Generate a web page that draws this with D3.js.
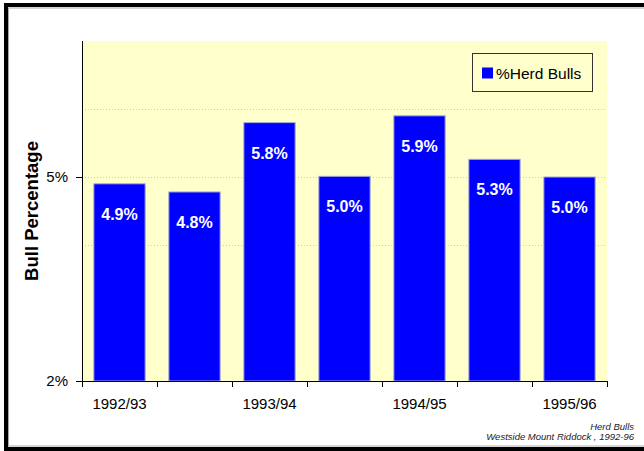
<!DOCTYPE html>
<html>
<head>
<meta charset="utf-8">
<script src="https://cdn.jsdelivr.net/npm/d3@7"></script>
<style>
  body { margin: 0; background: #fff; }
  svg { display: block; font-family: "Liberation Sans", Arial, sans-serif; }
</style>
</head>
<body>
<div id="chart"></div>
<script>
// data
var categories = ["1992/93", "1992/93b", "1993/94", "1993/94b", "1994/95", "1994/95b", "1995/96"];
var tickLabels = ["1992/93", "", "1993/94", "", "1994/95", "", "1995/96"];
var bullPct = [0.049, 0.0478, 0.058, 0.0501, 0.059, 0.0526, 0.050];
var valueLabels = ["4.9%", "4.8%", "5.8%", "5.0%", "5.9%", "5.3%", "5.0%"];
var yTicks = [0.02, 0.05];
var gridValues = [0.04, 0.05, 0.06];

var svgWidth = 644;
var svgHeight = 451;

var margin = { top: 41, right: 37, bottom: 70, left: 82 };
var chartWidth = svgWidth - margin.left - margin.right;
var chartHeight = svgHeight - margin.top - margin.bottom;

var svg = d3.select("#chart").append("svg")
  .attr("width", svgWidth)
  .attr("height", svgHeight);

// outer frame (open on the right)
svg.append("rect")
  .attr("x", 6).attr("y", 5)
  .attr("width", 700).attr("height", 444)
  .attr("fill", "none")
  .attr("stroke", "#000")
  .attr("stroke-width", 4);
svg.append("rect")
  .attr("x", 8.5).attr("y", 8)
  .attr("width", 700).attr("height", 438)
  .attr("fill", "none")
  .attr("stroke", "#aaa")
  .attr("stroke-width", 1);

var chartGroup = svg.append("g")
  .attr("transform", `translate(${margin.left}, ${margin.top})`);

// scales
var xScale = d3.scaleBand()
  .domain(categories)
  .range([0, chartWidth])
  .paddingInner(0.316)
  .paddingOuter(0.158);

var yScale = d3.scaleLinear()
  .domain([0.02, 0.07])
  .range([chartHeight, 0]);

// plot background
chartGroup.append("rect")
  .attr("width", chartWidth)
  .attr("height", chartHeight)
  .attr("fill", "#ffffcc");

// gridlines
chartGroup.selectAll(".grid")
  .data(gridValues)
  .enter()
  .append("line")
  .attr("x1", 0)
  .attr("x2", chartWidth)
  .attr("y1", d => Math.round(yScale(d)) + 0.5)
  .attr("y2", d => Math.round(yScale(d)) + 0.5)
  .attr("stroke", "#f2cf50")
  .attr("stroke-dasharray", "1,2");

// bars
chartGroup.selectAll(".bar")
  .data(bullPct)
  .enter()
  .append("rect")
  .attr("x", (d, i) => xScale(categories[i]))
  .attr("y", d => yScale(d))
  .attr("width", xScale.bandwidth())
  .attr("height", d => chartHeight - yScale(d))
  .attr("fill", "#0000ff")
  .attr("stroke", "#a8a8d8")
  .attr("stroke-width", 1);

// bar labels
chartGroup.selectAll(".barLabel")
  .data(bullPct)
  .enter()
  .append("text")
  .attr("x", (d, i) => xScale(categories[i]) + xScale.bandwidth() / 2)
  .attr("y", d => yScale(d) + 36)
  .attr("text-anchor", "middle")
  .attr("fill", "#fff")
  .attr("font-weight", "bold")
  .attr("font-size", "16px")
  .text((d, i) => valueLabels[i]);

// x axis
var xAxis = chartGroup.append("g")
  .attr("transform", `translate(0, ${chartHeight})`);
xAxis.append("line")
  .attr("x1", 0).attr("x2", chartWidth)
  .attr("y1", 0.5).attr("y2", 0.5)
  .attr("stroke", "#000");
xAxis.selectAll(".xtick")
  .data(d3.range(categories.length + 1))
  .enter()
  .append("line")
  .attr("x1", i => (i < categories.length ? xScale(categories[i]) - xScale.step() * xScale.paddingOuter() : chartWidth) + 0.5)
  .attr("x2", i => (i < categories.length ? xScale(categories[i]) - xScale.step() * xScale.paddingOuter() : chartWidth) + 0.5)
  .attr("y1", 0).attr("y2", 6)
  .attr("stroke", "#000");
xAxis.selectAll(".xlabel")
  .data(categories)
  .enter()
  .append("text")
  .attr("x", d => xScale(d) + xScale.bandwidth() / 2)
  .attr("y", 28)
  .attr("text-anchor", "middle")
  .attr("font-size", "15px")
  .attr("fill", "#000")
  .text((d, i) => tickLabels[i]);

// y axis
var yAxis = d3.axisLeft(yScale)
  .tickValues(yTicks)
  .tickFormat(d3.format(".0%"))
  .tickSize(6)
  .tickPadding(8);
var yAxisG = chartGroup.append("g").call(yAxis);
yAxisG.select(".domain").attr("d", `M0.5,0V${chartHeight}`);
yAxisG.selectAll("text")
  .attr("font-size", "15px")
  .attr("font-family", "'Liberation Sans', Arial, sans-serif")
  .attr("fill", "#000");

// y axis label
svg.append("text")
  .attr("transform", `translate(38, ${margin.top + chartHeight / 2}) rotate(-90)`)
  .attr("text-anchor", "middle")
  .attr("font-weight", "bold")
  .attr("font-size", "18.5px")
  .text("Bull Percentage");

// legend
var legend = svg.append("g");
legend.append("rect")
  .attr("x", 472.5).attr("y", 53.5)
  .attr("width", 120).attr("height", 38)
  .attr("fill", "#ffffcc")
  .attr("stroke", "#333");
legend.append("rect")
  .attr("x", 482).attr("y", 67.5)
  .attr("width", 11).attr("height", 11)
  .attr("fill", "#0000ff");
legend.append("text")
  .attr("x", 496).attr("y", 78.5)
  .attr("font-size", "15.5px")
  .text("%Herd Bulls");

// footnote
svg.append("text")
  .attr("x", 634).attr("y", 429.5)
  .attr("text-anchor", "end")
  .attr("font-style", "italic")
  .attr("font-size", "9.5px")
  .attr("fill", "#222")
  .text("Herd Bulls");
svg.append("text")
  .attr("x", 634).attr("y", 440)
  .attr("text-anchor", "end")
  .attr("font-style", "italic")
  .attr("font-size", "9.5px")
  .attr("fill", "#222")
  .text("Westside Mount Riddock , 1992-96");
</script>
</body>
</html>
